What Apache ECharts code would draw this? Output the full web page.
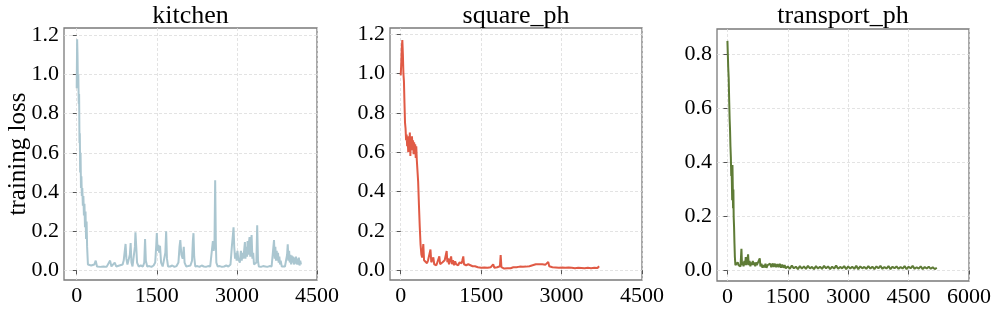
<!DOCTYPE html>
<html><head><meta charset="utf-8">
<script src="https://cdn.jsdelivr.net/npm/echarts@6/dist/echarts.min.js"></script>
<style>html,body{margin:0;padding:0;background:#fff}#c{width:997px;height:312px}</style>
</head><body><div id="c"></div>
<script>
// ---- data ----
const panelTitles = ["kitchen", "square_ph", "transport_ph"];
const yAxisLabel = "training loss";
const kitchenTicksX = [0, 1500, 3000, 4500];
const squareTicksX = [0, 1500, 3000, 4500];
const transportTicksX = [0, 1500, 3000, 4500, 6000];
const kitchenTicksY = [0.0, 0.2, 0.4, 0.6, 0.8, 1.0, 1.2];
const squareTicksY = [0.0, 0.2, 0.4, 0.6, 0.8, 1.0, 1.2];
const transportTicksY = [0.0, 0.2, 0.4, 0.6, 0.8];

const kitchenStep = [0,8,15,22,30,38,45,52,58,65,72,80,88,96,105,115,125,135,145,155,165,175,185,195,210,
240,270,300,330,356,380,410,440,470,500,530,560,590,625,650,680,712,740,770,800,830,860,880,900,915,930,950,975,995,1010,1025,1045,1070,1090,1100,1115,1130,1160,1200,1240,1265,1280,1295,1320,1360,1400,1440,1470,1490,1500,1515,1530,1545,1560,1580,1610,1640,1660,1675,1690,1710,1750,1790,1830,1870,1905,1925,1940,1960,1985,2005,2020,2050,2090,2130,2160,2175,2187,2200,2220,2260,2300,2340,2380,2420,2460,2500,2530,2550,2565,2580,2593,2605,2615,2640,2680,2720,2760,2800,2840,2880,2905,2925,2937,2950,2965,2980,2995,3010,3025,3040,3055,3075,3090,3105,3120,3135,3150,3160,3175,3190,3200,3212,3225,3237,3250,3262,3275,3290,3305,3320,3345,3365,3380,3395,3410,3450,3490,3530,3570,3610,3650,3680,3695,3708,3720,3732,3745,3758,3770,3782,3795,3808,3820,3840,3870,3900,3925,3940,3952,3965,3978,3990,4003,4015,4028,4040,4053,4066,4080,4093,4106,4120,4133,4146,4160,4173,4186,4200];
const kitchenLoss = [0.93,1.18,1.1,0.95,1.0,0.85,0.9,0.65,0.7,0.5,0.6,0.42,0.48,0.38,0.42,0.33,0.38,0.28,0.34,0.22,0.3,0.16,0.25,0.12,0.03,
0.02,0.025,0.018,0.03,0.05,0.02,0.025,0.018,0.028,0.02,0.025,0.018,0.022,0.05,0.02,0.025,0.04,0.02,0.028,0.025,0.035,0.03,0.05,0.04,0.135,0.06,0.03,0.025,0.08,0.14,0.04,0.02,0.03,0.12,0.195,0.12,0.04,0.02,0.025,0.02,0.04,0.16,0.05,0.02,0.022,0.018,0.025,0.04,0.13,0.19,0.1,0.13,0.09,0.125,0.04,0.02,0.025,0.09,0.2,0.06,0.02,0.02,0.025,0.018,0.022,0.04,0.12,0.155,0.08,0.06,0.12,0.04,0.02,0.022,0.025,0.05,0.15,0.19,0.07,0.02,0.022,0.018,0.025,0.02,0.018,0.022,0.02,0.03,0.15,0.1,0.13,0.46,0.15,0.04,0.02,0.022,0.018,0.02,0.025,0.02,0.03,0.12,0.18,0.22,0.12,0.06,0.09,0.05,0.1,0.06,0.07,0.04,0.1,0.05,0.09,0.06,0.1,0.145,0.06,0.12,0.07,0.15,0.08,0.14,0.17,0.07,0.12,0.18,0.06,0.09,0.03,0.02,0.04,0.23,0.05,0.02,0.018,0.022,0.02,0.018,0.022,0.02,0.03,0.155,0.06,0.12,0.05,0.1,0.05,0.09,0.04,0.07,0.03,0.05,0.02,0.022,0.02,0.03,0.08,0.133,0.05,0.1,0.04,0.08,0.03,0.075,0.04,0.07,0.03,0.065,0.035,0.07,0.03,0.06,0.03,0.065,0.025,0.05,0.03];

const squareStep = [0,10,20,30,40,50,60,70,80,90,100,110,120,130,140,150,160,170,180,190,200,210,220,230,240,250,260,270,280,290,300,310,325,340,355,370,385,400,421,435,450,470,490,510,530,555,570,590,608,625,645,665,690,720,735,755,780,800,820,840,857,870,885,900,920,940,955,975,995,1015,1035,1055,1075,1095,1115,1135,1150,1167,1180,1200,1220,1240,1260,1280,1300,1320,1340,1360,1385,1410,1440,1470,1500,1530,1560,1590,1620,1650,1680,1705,1725,1745,1770,1800,1830,1850,1864,1878,1900,1930,1960,1990,2020,2050,2080,2100,2115,2130,2160,2190,2220,2250,2280,2310,2340,2370,2400,2430,2460,2490,2520,2550,2580,2610,2640,2670,2700,2725,2751,2770,2800,2830,2860,2890,2920,2950,2980,3010,3040,3070,3100,3130,3160,3190,3220,3250,3280,3310,3340,3370,3400,3430,3460,3490,3520,3550,3580,3610,3640,3670,3700];
const squareLoss = [0.99,1.05,1.13,1.17,1.1,1.0,0.96,0.85,0.75,0.72,0.66,0.69,0.63,0.67,0.6,0.68,0.62,0.7,0.58,0.66,0.62,0.68,0.61,0.66,0.59,0.65,0.6,0.64,0.57,0.63,0.56,0.55,0.45,0.33,0.22,0.13,0.08,0.065,0.133,0.05,0.045,0.06,0.035,0.05,0.04,0.105,0.04,0.035,0.065,0.03,0.04,0.025,0.035,0.07,0.03,0.025,0.04,0.03,0.05,0.06,0.097,0.04,0.06,0.03,0.05,0.07,0.03,0.05,0.025,0.045,0.03,0.04,0.025,0.04,0.03,0.035,0.05,0.07,0.03,0.04,0.025,0.035,0.03,0.04,0.025,0.035,0.02,0.03,0.02,0.012,0.015,0.01,0.012,0.01,0.013,0.01,0.012,0.01,0.015,0.012,0.03,0.012,0.01,0.015,0.012,0.02,0.077,0.015,0.01,0.008,0.012,0.01,0.014,0.01,0.013,0.015,0.025,0.012,0.015,0.012,0.018,0.013,0.017,0.012,0.018,0.015,0.02,0.018,0.025,0.02,0.03,0.022,0.03,0.025,0.03,0.022,0.028,0.025,0.042,0.02,0.018,0.015,0.02,0.014,0.018,0.012,0.02,0.013,0.018,0.012,0.02,0.013,0.018,0.012,0.017,0.01,0.018,0.012,0.02,0.011,0.017,0.01,0.018,0.012,0.016,0.01,0.018,0.012,0.016,0.011,0.02];

const transportStep = [0,10,20,32,45,55,65,75,85,95,102,110,118,125,132,140,148,155,165,175,185,198,215,235,255,275,300,325,348,362,380,400,420,440,455,470,490,513,530,550,570,590,610,630,650,670,690,710,730,750,775,803,820,845,870,895,920,945,970,1000,1030,1060,1090,1120,1150,1180,1210,1240,1270,1300,1330,1360,1390,1420,1450,1500,1550,1600,1650,1700,1750,1800,1850,1900,1950,2000,2050,2100,2150,2200,2250,2300,2350,2400,2450,2500,2550,2600,2650,2700,2750,2800,2850,2900,2950,3000,3050,3100,3150,3200,3250,3300,3350,3400,3450,3500,3550,3600,3650,3700,3750,3800,3850,3900,3950,4000,4050,4100,4150,4200,4250,4300,4350,4400,4450,4500,4550,4600,4650,4700,4750,4800,4850,4900,4950,5000,5050,5100,5150,5200];
const transportLoss = [0.85,0.8,0.75,0.71,0.62,0.56,0.52,0.46,0.42,0.35,0.39,0.33,0.26,0.39,0.32,0.23,0.3,0.2,0.16,0.1,0.05,0.02,0.025,0.015,0.03,0.02,0.025,0.015,0.08,0.02,0.03,0.015,0.035,0.02,0.05,0.02,0.03,0.06,0.02,0.035,0.015,0.03,0.02,0.035,0.02,0.03,0.015,0.03,0.02,0.025,0.015,0.045,0.015,0.025,0.01,0.02,0.012,0.025,0.01,0.02,0.015,0.025,0.012,0.026,0.013,0.025,0.012,0.024,0.012,0.025,0.01,0.022,0.01,0.02,0.008,0.015,0.006,0.018,0.008,0.014,0.005,0.016,0.007,0.015,0.006,0.017,0.008,0.013,0.005,0.016,0.007,0.014,0.006,0.017,0.008,0.015,0.005,0.014,0.007,0.018,0.006,0.013,0.008,0.016,0.005,0.015,0.007,0.014,0.006,0.017,0.005,0.015,0.008,0.013,0.006,0.016,0.007,0.014,0.005,0.015,0.008,0.017,0.006,0.013,0.007,0.016,0.005,0.014,0.008,0.015,0.006,0.013,0.007,0.016,0.005,0.014,0.008,0.017,0.006,0.012,0.007,0.015,0.005,0.013,0.007,0.014,0.006,0.012,0.005,0.01,0.006,0.005];

// ---- chart ----
const FONT = "Liberation Serif";
const colors = ["#aac6d0", "#e05a45", "#5e7b36"];
const grids = [
  {left: 64, top: 28, width: 253, height: 252},
  {left: 390, top: 28, width: 252, height: 252},
  {left: 717, top: 29, width: 252, height: 252}
];
const xRanges = [[-238, 4500], [-200, 4500], [-259, 6000]];
const yRanges = [[-0.049, 1.237], [-0.05, 1.231], [-0.039, 0.894]];
const xTicks = [kitchenTicksX, squareTicksX, transportTicksX];
const yTicks = [kitchenTicksY, squareTicksY, transportTicksY];
const steps = [kitchenStep, squareStep, transportStep];
const losses = [kitchenLoss, squareLoss, transportLoss];

const splitLine = {show: true, lineStyle: {color: "#dcdcdc", width: 0.8, type: [3, 2]}};
const opt = {
  animation: false,
  backgroundColor: "#fff",
  title: panelTitles.map((t, i) => ({
    text: t, left: grids[i].left + grids[i].width / 2, top: 3, textAlign: "center", padding: 0,
    textStyle: {fontFamily: FONT, fontSize: 26, fontWeight: "normal", color: "#000"}
  })),
  grid: grids.map(g => Object.assign({show: true, borderColor: "#7a7a7a", borderWidth: 1.3, backgroundColor: "transparent", containLabel: false, outerBoundsMode: "none"}, g)),
  xAxis: grids.map((g, i) => ({
    type: "value", gridIndex: i, min: xRanges[i][0], max: xRanges[i][1],
    axisLine: {show: false},
    axisTick: {show: true, length: 4, inside: false, lineStyle: {color: "#555", width: 1}, customValues: xTicks[i]},
    axisLabel: {customValues: xTicks[i], fontFamily: FONT, fontSize: 22, color: "#000", margin: 5, formatter: v => String(v)},
    splitLine: splitLine
  })),
  yAxis: grids.map((g, i) => ({
    type: "value", gridIndex: i, min: yRanges[i][0], max: yRanges[i][1],
    name: i === 0 ? yAxisLabel : "", nameLocation: "middle", nameRotate: 90, nameGap: 33, nameMoveOverlap: false,
    nameTextStyle: {fontFamily: FONT, fontSize: 25, color: "#000"},
    axisLine: {show: false},
    axisTick: {show: true, length: 4, inside: false, lineStyle: {color: "#555", width: 1}, customValues: yTicks[i]},
    axisLabel: {customValues: yTicks[i], fontFamily: FONT, fontSize: 22, color: "#000", margin: 5, formatter: v => v.toFixed(1)},
    splitLine: splitLine
  })),
  series: steps.map((s, i) => ({
    type: "line", xAxisIndex: i, yAxisIndex: i, showSymbol: false, symbol: "none",
    data: s.map((x, k) => [x, losses[i][k]]),
    lineStyle: {color: colors[i], width: 2}, z: 3
  }))
};
const chart = echarts.init(document.getElementById("c"), null, {renderer: "canvas"});
chart.setOption(opt);
</script></body></html>
